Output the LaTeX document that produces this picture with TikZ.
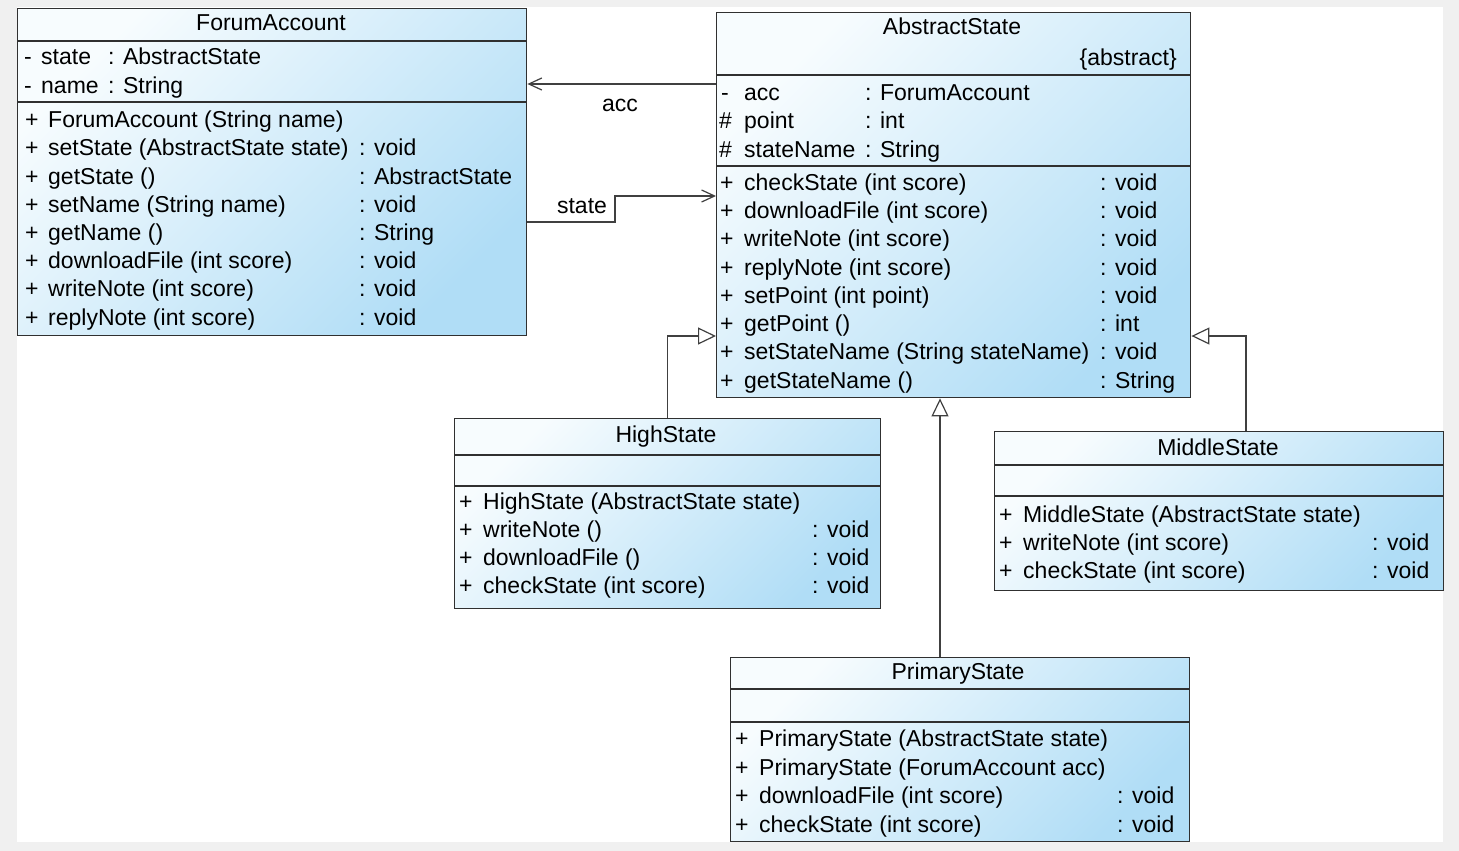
\documentclass[tikz,border=0pt]{standalone}
\usepackage{fontspec}
\setmainfont{Liberation Sans}
\usetikzlibrary{arrows.meta,calc}
\definecolor{bgray}{HTML}{F0F0F0}
\definecolor{boxlight}{HTML}{F7FCFE}
\definecolor{boxdark}{HTML}{B0DDF6}
\definecolor{edge}{HTML}{303030}
\definecolor{conn}{HTML}{404040}
\tikzset{
  cls/.style={draw=edge, line width=1.4pt, rectangle, inner sep=0pt,
    anchor=north west, top color=boxlight, bottom color=boxdark, shading angle=45},
  sep/.style={draw=edge, line width=1.3pt},
  txt/.style={inner sep=0pt, anchor=base west, font=\fontsize{23}{27}\selectfont, text=black},
  ttl/.style={inner sep=0pt, anchor=base, font=\fontsize{23}{27}\selectfont, text=black},
  assoc/.style={draw=conn, line width=1.3pt, -{Straight Barb[length=13pt,width=12pt,line width=1.2pt]}},
  gen/.style={draw=conn, line width=1.3pt, -{Triangle[open,length=18pt,width=17pt,line width=1.2pt,fill=white]}},
}
\newcommand{\rowtxt}[4]{\node[txt] (#1) at (#2,{#3+8}) {#4};}
\begin{document}
\begin{tikzpicture}[x=1pt,y=-1pt]
\useasboundingbox (0,0) rectangle (1459,851);
\fill[bgray] (0,0) rectangle (1459,851);
\fill[white] (17,7) rectangle (1443,842);

% ---------- ForumAccount ----------
\node[cls, minimum width=509, minimum height=327] (fa) at (17,8) {};
\draw[sep] (17,41) -- (526,41);
\draw[sep] (17,102) -- (526,102);
\node[ttl] (fat) at (271,31) {ForumAccount};
\rowtxt{fa1a}{24}{57}{-}\rowtxt{fa1b}{41}{57}{state}\rowtxt{fa1c}{108}{57}{: AbstractState}
\rowtxt{fa2a}{24}{85}{-}\rowtxt{fa2b}{41}{85}{name}\rowtxt{fa2c}{108}{85}{: String}
\rowtxt{fm1a}{25}{119}{+}\rowtxt{fm1b}{48}{119}{ForumAccount (String name)}
\rowtxt{fm2a}{25}{147}{+}\rowtxt{fm2b}{48}{147}{setState (AbstractState state)}\rowtxt{fm2c}{359}{147}{: void}
\rowtxt{fm3a}{25}{176}{+}\rowtxt{fm3b}{48}{176}{getState ()}\rowtxt{fm3c}{359}{176}{: AbstractState}
\rowtxt{fm4a}{25}{204}{+}\rowtxt{fm4b}{48}{204}{setName (String name)}\rowtxt{fm4c}{359}{204}{: void}
\rowtxt{fm5a}{25}{232}{+}\rowtxt{fm5b}{48}{232}{getName ()}\rowtxt{fm5c}{359}{232}{: String}
\rowtxt{fm6a}{25}{260}{+}\rowtxt{fm6b}{48}{260}{downloadFile (int score)}\rowtxt{fm6c}{359}{260}{: void}
\rowtxt{fm7a}{25}{288}{+}\rowtxt{fm7b}{48}{288}{writeNote (int score)}\rowtxt{fm7c}{359}{288}{: void}
\rowtxt{fm8a}{25}{317}{+}\rowtxt{fm8b}{48}{317}{replyNote (int score)}\rowtxt{fm8c}{359}{317}{: void}

% ---------- AbstractState ----------
\node[cls, minimum width=474, minimum height=385] (as) at (716,12) {};
\draw[sep] (716,75) -- (1190,75);
\draw[sep] (716,166) -- (1190,166);
\node[ttl] (ast) at (952,35) {AbstractState};
\node[txt, anchor=base east] (asab) at (1177,66) {\{abstract\}};
\rowtxt{aa1a}{721}{92}{-}\rowtxt{aa1b}{744}{92}{acc}\rowtxt{aa1c}{865}{92}{: ForumAccount}
\rowtxt{aa2a}{719}{120}{\#}\rowtxt{aa2b}{744}{120}{point}\rowtxt{aa2c}{865}{120}{: int}
\rowtxt{aa3a}{719}{149}{\#}\rowtxt{aa3b}{744}{149}{stateName}\rowtxt{aa3c}{865}{149}{: String}
\rowtxt{am1a}{720}{182}{+}\rowtxt{am1b}{744}{182}{checkState (int score)}\rowtxt{am1c}{1100}{182}{: void}
\rowtxt{am2a}{720}{210}{+}\rowtxt{am2b}{744}{210}{downloadFile (int score)}\rowtxt{am2c}{1100}{210}{: void}
\rowtxt{am3a}{720}{238}{+}\rowtxt{am3b}{744}{238}{writeNote (int score)}\rowtxt{am3c}{1100}{238}{: void}
\rowtxt{am4a}{720}{267}{+}\rowtxt{am4b}{744}{267}{replyNote (int score)}\rowtxt{am4c}{1100}{267}{: void}
\rowtxt{am5a}{720}{295}{+}\rowtxt{am5b}{744}{295}{setPoint (int point)}\rowtxt{am5c}{1100}{295}{: void}
\rowtxt{am6a}{720}{323}{+}\rowtxt{am6b}{744}{323}{getPoint ()}\rowtxt{am6c}{1100}{323}{: int}
\rowtxt{am7a}{720}{351}{+}\rowtxt{am7b}{744}{351}{setStateName (String stateName)}\rowtxt{am7c}{1100}{351}{: void}
\rowtxt{am8a}{720}{380}{+}\rowtxt{am8b}{744}{380}{getStateName ()}\rowtxt{am8c}{1100}{380}{: String}

% ---------- HighState ----------
\node[cls, minimum width=426, minimum height=190] (hs) at (454,418) {};
\draw[sep] (454,455) -- (880,455);
\draw[sep] (454,486) -- (880,486);
\node[ttl] (hst) at (666,442) {HighState};
\rowtxt{hm1a}{459}{501}{+}\rowtxt{hm1b}{483}{501}{HighState (AbstractState state)}
\rowtxt{hm2a}{459}{529}{+}\rowtxt{hm2b}{483}{529}{writeNote ()}\rowtxt{hm2c}{812}{529}{: void}
\rowtxt{hm3a}{459}{557}{+}\rowtxt{hm3b}{483}{557}{downloadFile ()}\rowtxt{hm3c}{812}{557}{: void}
\rowtxt{hm4a}{459}{585}{+}\rowtxt{hm4b}{483}{585}{checkState (int score)}\rowtxt{hm4c}{812}{585}{: void}

% ---------- MiddleState ----------
\node[cls, minimum width=449, minimum height=159] (ms) at (994,431) {};
\draw[sep] (994,465) -- (1443,465);
\draw[sep] (994,496) -- (1443,496);
\node[ttl] (mst) at (1218,455) {MiddleState};
\rowtxt{mm1a}{999}{514}{+}\rowtxt{mm1b}{1023}{514}{MiddleState (AbstractState state)}
\rowtxt{mm2a}{999}{542}{+}\rowtxt{mm2b}{1023}{542}{writeNote (int score)}\rowtxt{mm2c}{1372}{542}{: void}
\rowtxt{mm3a}{999}{570}{+}\rowtxt{mm3b}{1023}{570}{checkState (int score)}\rowtxt{mm3c}{1372}{570}{: void}

% ---------- PrimaryState ----------
\node[cls, minimum width=459, minimum height=184] (ps) at (730,657) {};
\draw[sep] (730,689) -- (1189,689);
\draw[sep] (730,722) -- (1189,722);
\node[ttl] (pst) at (958,679) {PrimaryState};
\rowtxt{pm1a}{735}{738}{+}\rowtxt{pm1b}{759}{738}{PrimaryState (AbstractState state)}
\rowtxt{pm2a}{735}{767}{+}\rowtxt{pm2b}{759}{767}{PrimaryState (ForumAccount acc)}
\rowtxt{pm3a}{735}{795}{+}\rowtxt{pm3b}{759}{795}{downloadFile (int score)}\rowtxt{pm3c}{1117}{795}{: void}
\rowtxt{pm4a}{735}{824}{+}\rowtxt{pm4b}{759}{824}{checkState (int score)}\rowtxt{pm4c}{1117}{824}{: void}

% ---------- connectors ----------
\draw[assoc] (as.west |- 0,84) -- (fa.east |- 0,84);
\node[ttl] (lacc) at (620,111) {acc};
\draw[assoc] (fa.east |- 0,222) -- (615,222) -- (615,196) -- (as.west |- 0,196);
\node[ttl] (lstate) at (582,213) {state};
\draw[gen] (hs.north) |- (as.west |- 0,336);
\draw[gen] ($(ms.north west)+(252,0)$) |- (as.east |- 0,336);
\draw[gen] (940,0 |- ps.north) -- (940,0 |- as.south);
\end{tikzpicture}
\end{document}
